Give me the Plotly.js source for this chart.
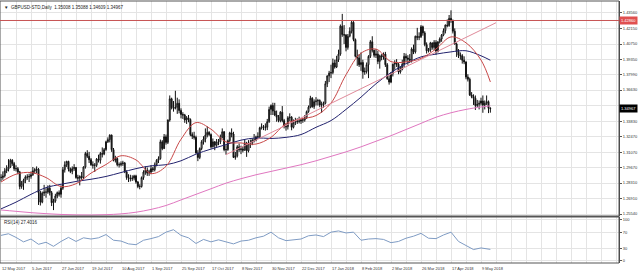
<!DOCTYPE html>
<html><head><meta charset="utf-8">
<script src="https://cdn.plot.ly/plotly-3.0.1.min.js"></script>
<style>html,body{margin:0;padding:0;background:#fff;}#chart{width:640px;height:273px;}</style>
</head><body><div id="chart"></div>
<script>
// ---- DATA (GBPUSD daily, 12 May 2017 - 16 May 2018) ----
const open = [
1.2885,1.2880,1.2895,1.2940,1.2955,1.2975,1.3035,1.3005,1.2960,1.2960,
1.2930,1.2800,1.2830,1.2855,1.2885,1.2885,1.2890,1.2905,1.2940,1.2950,
1.2955,1.2745,1.2660,1.2740,1.2750,1.2750,1.2785,1.2745,1.2655,1.2670,
1.2715,1.2745,1.2730,1.2785,1.2950,1.2995,1.3025,1.2955,1.2935,1.2960,
1.2970,1.2880,1.2875,1.2890,1.2880,1.2975,1.3095,1.3070,1.3040,1.2995,
1.2990,1.2990,1.3045,1.3035,1.3095,1.3090,1.3130,1.3200,1.3220,1.3260,
1.3130,1.3035,1.3050,1.2995,1.2995,1.3005,1.3010,1.2930,1.2880,1.2875,
1.2870,1.2875,1.2895,1.2840,1.2800,1.2800,1.2880,1.2930,1.2945,1.2920,
1.2930,1.2960,1.2950,1.2995,1.3035,1.3050,1.3200,1.3140,1.3245,1.3195,
1.3395,1.3585,1.3505,1.3500,1.3510,1.3545,1.3480,1.3445,1.3440,1.3395,
1.3415,1.3400,1.3265,1.3250,1.3240,1.3100,1.3060,1.3140,1.3200,1.3225,
1.3260,1.3285,1.3265,1.3155,1.3200,1.3170,1.3200,1.3200,1.3240,1.3290,
1.3130,1.3130,1.3210,1.3280,1.3270,1.3060,1.3075,1.3155,1.3130,1.3135,
1.3125,1.3190,1.3120,1.3185,1.3190,1.3215,1.3215,1.3245,1.3245,1.3325,
1.3335,1.3335,1.3330,1.3380,1.3490,1.3525,1.3475,1.3440,1.3420,1.3390,
1.3465,1.3390,1.3340,1.3335,1.3415,1.3420,1.3330,1.3375,1.3380,1.3385,
1.3385,1.3395,1.3395,1.3415,1.3470,1.3510,1.3590,1.3515,1.3560,1.3565,
1.3570,1.3530,1.3530,1.3545,1.3720,1.3790,1.3815,1.3820,1.3905,1.3870,
1.3935,1.3985,1.4235,1.4160,1.4155,1.4045,1.4145,1.4190,1.4270,1.4115,
1.3965,1.3950,1.3890,1.3910,1.3825,1.3830,1.3890,1.3965,1.4095,1.4020,
1.3975,1.3985,1.3920,1.3970,1.3960,1.3985,1.3890,1.3765,1.3735,1.3810,
1.3895,1.3905,1.3895,1.3825,1.3850,1.3895,1.3965,1.3950,1.3940,1.3930,
1.4030,1.4005,1.4145,1.4135,1.4140,1.4230,1.4175,1.4070,1.4015,1.4020,
1.4085,1.4045,1.4090,1.4010,1.4095,1.4120,1.4155,1.4195,1.4245,1.4240,
1.4305,1.4285,1.4190,1.4075,1.4010,1.3975,1.3970,1.3930,1.3915,1.3780,
1.3760,1.3620,1.3605,1.3590,1.3525,1.3535,1.3545,1.3565,1.3530,1.3545,
1.3560,1.35008];
const high = [
1.2910,1.2935,1.2965,1.2990,1.3045,1.3048,1.3045,1.3020,1.2990,1.2975,
1.2940,1.2850,1.2870,1.2900,1.2910,1.2915,1.2935,1.2975,1.2965,1.2980,
1.2965,1.2760,1.2755,1.2815,1.2785,1.2810,1.2815,1.2760,1.2690,1.2735,
1.2755,1.2765,1.2810,1.2975,1.3025,1.3030,1.3030,1.2970,1.2980,1.3000,
1.2975,1.2905,1.2900,1.2930,1.2980,1.3110,1.3125,1.3110,1.3055,1.3025,
1.3010,1.3055,1.3085,1.3110,1.3150,1.3145,1.3210,1.3240,1.3267,1.3265,
1.3145,1.3075,1.3060,1.3015,1.3025,1.3030,1.3020,1.2945,1.2910,1.2905,
1.2900,1.2905,1.2905,1.2850,1.2820,1.2890,1.2945,1.2980,1.2970,1.2950,
1.2990,1.2975,1.3015,1.3045,1.3070,1.3220,1.3215,1.3270,1.3265,1.3400,
1.3615,1.3595,1.3565,1.3657,1.3595,1.3580,1.3500,1.3465,1.3450,1.3430,
1.3440,1.3410,1.3285,1.3290,1.3255,1.3125,1.3150,1.3215,1.3250,1.3320,
1.3338,1.3295,1.3275,1.3230,1.3205,1.3225,1.3225,1.3265,1.3320,1.3295,
1.3170,1.3220,1.3290,1.3320,1.3290,1.3110,1.3170,1.3185,1.3165,1.3160,
1.3220,1.3200,1.3215,1.3220,1.3230,1.3270,1.3255,1.3285,1.3335,1.3365,
1.3350,1.3365,1.3405,1.3515,1.3535,1.3550,1.3549,1.3480,1.3440,1.3475,
1.3520,1.3405,1.3365,1.3430,1.3455,1.3430,1.3400,1.3415,1.3410,1.3425,
1.3410,1.3415,1.3440,1.3480,1.3525,1.3612,1.3600,1.3580,1.3600,1.3585,
1.3580,1.3560,1.3560,1.3745,1.3795,1.3835,1.3890,1.3945,1.3935,1.3970,
1.4025,1.4250,1.4345,1.4245,1.4165,1.4165,1.4225,1.4285,1.4280,1.4125,
1.4025,1.3985,1.4000,1.3935,1.3865,1.3910,1.3975,1.4110,1.4145,1.4025,
1.4030,1.4015,1.3980,1.3985,1.4000,1.4005,1.3905,1.3795,1.3825,1.3900,
1.3930,1.3940,1.3905,1.3875,1.3935,1.3995,1.3990,1.3975,1.3985,1.4045,
1.4070,1.4150,1.4220,1.4180,1.4245,1.4240,1.4190,1.4090,1.4040,1.4095,
1.4090,1.4110,1.4110,1.4100,1.4135,1.4165,1.4215,1.4250,1.4295,1.4335,
1.4377,1.4295,1.4215,1.4090,1.4030,1.4000,1.3985,1.3965,1.3920,1.3805,
1.3775,1.3645,1.3625,1.3615,1.3575,1.3570,1.3595,1.3615,1.3570,1.3615,
1.3570,1.35088];
const low = [
1.2845,1.2860,1.2880,1.2920,1.2935,1.2965,1.2985,1.2940,1.2935,1.2910,
1.2775,1.2780,1.2770,1.2830,1.2860,1.2840,1.2870,1.2895,1.2915,1.2920,
1.2635,1.2630,1.2650,1.2715,1.2700,1.2735,1.2720,1.2625,1.2589,1.2655,
1.2695,1.2710,1.2700,1.2770,1.2925,1.2975,1.2935,1.2920,1.2910,1.2940,
1.2870,1.2850,1.2810,1.2860,1.2865,1.2960,1.3055,1.3010,1.2985,1.2960,
1.2930,1.2975,1.3015,1.3005,1.3060,1.3080,1.3120,1.3190,1.3195,1.3110,
1.3025,1.3015,1.2980,1.2970,1.2980,1.2985,1.2920,1.2860,1.2840,1.2845,
1.2850,1.2855,1.2825,1.2785,1.2775,1.2790,1.2860,1.2905,1.2895,1.2895,
1.2910,1.2930,1.2935,1.2980,1.3010,1.3040,1.3125,1.3135,1.3175,1.3180,
1.3380,1.3490,1.3470,1.3490,1.3450,1.3455,1.3410,1.3405,1.3370,1.3360,
1.3375,1.3250,1.3225,1.3220,1.3095,1.3027,1.3045,1.3125,1.3175,1.3195,
1.3240,1.3250,1.3140,1.3150,1.3125,1.3155,1.3170,1.3180,1.3230,1.3115,
1.3085,1.3120,1.3195,1.3240,1.3055,1.3040,1.3060,1.3110,1.3090,1.3105,
1.3120,1.3065,1.3105,1.3145,1.3170,1.3195,1.3205,1.3225,1.3230,1.3310,
1.3305,1.3300,1.3305,1.3370,1.3440,1.3440,1.3430,1.3380,1.3375,1.3375,
1.3375,1.3320,1.3300,1.3310,1.3385,1.3303,1.3320,1.3350,1.3360,1.3365,
1.3360,1.3370,1.3380,1.3405,1.3460,1.3500,1.3505,1.3495,1.3525,1.3525,
1.3510,1.3460,1.3505,1.3535,1.3690,1.3735,1.3770,1.3805,1.3855,1.3860,
1.3915,1.3970,1.4140,1.4075,1.4010,1.4025,1.4135,1.4170,1.4100,1.3955,
1.3880,1.3870,1.3835,1.3765,1.3800,1.3810,1.3770,1.3950,1.4000,1.3955,
1.3950,1.3895,1.3855,1.3930,1.3935,1.3870,1.3755,1.3712,1.3725,1.3785,
1.3845,1.3870,1.3805,1.3810,1.3840,1.3870,1.3915,1.3890,1.3905,1.3910,
1.3985,1.3990,1.4110,1.4110,1.4130,1.4150,1.4055,1.3990,1.4000,1.4005,
1.4025,1.4020,1.3980,1.4000,1.4080,1.4095,1.4145,1.4170,1.4225,1.4230,
1.4265,1.4170,1.4070,1.3960,1.3950,1.3935,1.3900,1.3895,1.3760,1.3740,
1.3610,1.3590,1.3530,1.3485,1.3510,1.3490,1.3525,1.3460,1.3490,1.3530,
1.3457,1.34609];
const close = [
1.2880,1.2895,1.2940,1.2955,1.2975,1.3035,1.3005,1.2960,1.2960,1.2930,
1.2800,1.2830,1.2855,1.2885,1.2885,1.2890,1.2905,1.2940,1.2950,1.2955,
1.2745,1.2660,1.2740,1.2750,1.2750,1.2785,1.2745,1.2655,1.2670,1.2715,
1.2745,1.2730,1.2785,1.2950,1.2995,1.3025,1.2955,1.2935,1.2960,1.2970,
1.2880,1.2875,1.2890,1.2880,1.2975,1.3095,1.3070,1.3040,1.2995,1.2990,
1.2990,1.3045,1.3035,1.3095,1.3090,1.3130,1.3200,1.3220,1.3260,1.3130,
1.3035,1.3050,1.2995,1.2995,1.3005,1.3010,1.2930,1.2880,1.2875,1.2870,
1.2875,1.2895,1.2840,1.2800,1.2800,1.2880,1.2930,1.2945,1.2920,1.2930,
1.2960,1.2950,1.2995,1.3035,1.3050,1.3200,1.3140,1.3245,1.3195,1.3395,
1.3585,1.3505,1.3500,1.3510,1.3545,1.3480,1.3445,1.3440,1.3395,1.3415,
1.3400,1.3265,1.3250,1.3240,1.3100,1.3060,1.3140,1.3200,1.3225,1.3260,
1.3285,1.3265,1.3155,1.3200,1.3170,1.3200,1.3200,1.3240,1.3290,1.3130,
1.3130,1.3210,1.3280,1.3270,1.3060,1.3075,1.3155,1.3130,1.3135,1.3125,
1.3190,1.3120,1.3185,1.3190,1.3215,1.3215,1.3245,1.3245,1.3325,1.3335,
1.3335,1.3330,1.3380,1.3490,1.3525,1.3475,1.3440,1.3420,1.3390,1.3465,
1.3390,1.3340,1.3335,1.3415,1.3420,1.3330,1.3375,1.3380,1.3385,1.3385,
1.3395,1.3395,1.3415,1.3470,1.3510,1.3590,1.3515,1.3560,1.3565,1.3570,
1.3530,1.3530,1.3545,1.3720,1.3790,1.3815,1.3820,1.3905,1.3870,1.3935,
1.3985,1.4235,1.4160,1.4155,1.4045,1.4145,1.4190,1.4270,1.4115,1.3965,
1.3950,1.3890,1.3910,1.3825,1.3830,1.3890,1.3965,1.4095,1.4020,1.3975,
1.3985,1.3920,1.3970,1.3960,1.3985,1.3890,1.3765,1.3735,1.3810,1.3895,
1.3905,1.3895,1.3825,1.3850,1.3895,1.3965,1.3950,1.3940,1.3930,1.4030,
1.4005,1.4145,1.4135,1.4140,1.4230,1.4175,1.4070,1.4015,1.4020,1.4085,
1.4045,1.4090,1.4010,1.4095,1.4120,1.4155,1.4195,1.4245,1.4240,1.4305,
1.4285,1.4190,1.4075,1.4010,1.3975,1.3970,1.3930,1.3915,1.3780,1.3760,
1.3620,1.3605,1.3590,1.3525,1.3535,1.3545,1.3565,1.3530,1.3545,1.3560,
1.3500,1.34967];

// moving averages (bar index, price)
const maIdx  = [0,8,16,24,32,40,48,56,64,72,80,88,96,104,112,120,128,136,144,152,160,168,176,184,192,200,208,216,224,232,240,248,256,261];
const ma20   = [1.2840,1.2910,1.2925,1.2880,1.2800,1.2825,1.2920,1.2997,1.3075,1.3038,1.2916,1.2981,1.3223,1.3372,1.3313,1.3199,1.3190,1.3180,1.3240,1.3363,1.3405,1.3435,1.3547,1.3800,1.3993,1.4030,1.3918,1.3915,1.3947,1.4031,1.4139,1.4086,1.3932,1.3736];
const ma50   = [1.2600,1.2660,1.2730,1.2790,1.2820,1.2845,1.2865,1.2890,1.2925,1.2960,1.2985,1.2995,1.3030,1.3090,1.3135,1.3175,1.3215,1.3235,1.3230,1.3240,1.3265,1.3330,1.3390,1.3490,1.3600,1.3720,1.3820,1.3900,1.3960,1.3985,1.4005,1.4015,1.3970,1.3930];
const ma200  = [1.2590,1.2578,1.2566,1.2557,1.2550,1.2546,1.2545,1.2548,1.2555,1.2570,1.2595,1.2630,1.2680,1.2730,1.2780,1.2830,1.2870,1.2905,1.2935,1.2965,1.2995,1.3030,1.3070,1.3110,1.3155,1.3205,1.3255,1.3310,1.3365,1.3420,1.3460,1.3490,1.3512,1.3522];
const trendIdx = [120, 264];
const trendPx  = [1.3085, 1.4266];
const resistance = 1.4286;
const lastPrice = 1.34967;

// RSI(14)
const rsiIdx = [0,4,8,12,16,20,24,28,32,36,40,44,48,52,56,60,64,68,72,76,80,84,88,92,96,100,104,108,112,116,120,124,128,132,136,140,144,148,152,156,160,164,168,172,176,180,184,188,192,196,200,204,208,212,216,220,224,228,232,236,240,244,248,252,256,260,261];
const rsi    = [62,66,57,46,53,40,45,35,47,57,47,56,53,56,64,50,48,41,39,50,54,59,70,76,62,56,42,52,46,51,46,41,48,50,56,60,70,56,49,51,53,61,63,59,70,73,68,70,50,53,54,52,44,47,55,60,67,55,54,63,70,47,36,27,31,29,27.4];

// axis labels
const dateLabels = ["12 May 2017","5 Jun 2017","27 Jun 2017","19 Jul 2017","10 Aug 2017","1 Sep 2017","25 Sep 2017","17 Oct 2017","8 Nov 2017","30 Nov 2017","22 Dec 2017","17 Jan 2018","8 Feb 2018","2 Mar 2018","26 Mar 2018","17 Apr 2018","9 May 2018"];
const priceTicks = [1.2554,1.2691,1.2831,1.2967,1.3107,1.3247,1.3383,1.3523,1.3663,1.3799,1.3935,1.4075,1.4215,1.4356];
const rsiTicks = [0,30,70,100];

// ---- BUILD ----
const idx = open.map((_, i) => i);
const gridVals = [];
for (let k = 0; k * 8 <= 328; k++) gridVals.push(k * 8);
const labelIdx = dateLabels.map((_, k) => k * 16);
// the price label hidden behind the current-price box is left blank
const priceText = priceTicks.map(v => Math.abs(v - lastPrice) < 0.004 ? "" : v.toFixed(5));
const FONT = "Liberation Sans, Arial, sans-serif";
const traces = [
  {type:'candlestick', x: idx, open, high, low, close, xaxis:'x', yaxis:'y',
   increasing:{line:{color:'#111', width:1}, fillcolor:'#ffffff'},
   decreasing:{line:{color:'#111', width:1}, fillcolor:'#111111'},
   whiskerwidth:0, hoverinfo:'skip', showlegend:false},
  {type:'scatter', mode:'lines', x: maIdx, y: ma200, line:{color:'#e077c0', width:1, shape:'spline'}, yaxis:'y', showlegend:false, hoverinfo:'skip'},
  {type:'scatter', mode:'lines', x: maIdx, y: ma50, line:{color:'#23236e', width:1, shape:'spline'}, yaxis:'y', showlegend:false, hoverinfo:'skip'},
  {type:'scatter', mode:'lines', x: maIdx, y: ma20, line:{color:'#c84848', width:1, shape:'spline'}, yaxis:'y', showlegend:false, hoverinfo:'skip'},
  {type:'scatter', mode:'lines', x: trendIdx, y: trendPx, line:{color:'#e08a9a', width:1}, yaxis:'y', showlegend:false, hoverinfo:'skip'},
  {type:'scatter', mode:'lines', x: rsiIdx, y: rsi, line:{color:'#7f9cc4', width:1}, xaxis:'x', yaxis:'y2', showlegend:false, hoverinfo:'skip'}
];
const annotations = [
  {xref:'paper', yref:'paper', x:0.004, y:1, xanchor:'left', yanchor:'top', yshift:-2, showarrow:false,
   text:'\u25BC  GBPUSD-STD,Daily  1.35008 1.35088 1.34609 1.34967', font:{size:4.5, color:'#222', family:FONT}},
  {xref:'paper', yref:'paper', x:0.004, y:0.1744, xanchor:'left', yanchor:'top', yshift:-1, showarrow:false,
   text:'RSI(14) 27.4016', font:{size:4.5, color:'#222', family:FONT}},
  {xref:'paper', yref:'y', x:1, y:lastPrice, xanchor:'left', yanchor:'middle', showarrow:false,
   text:lastPrice.toFixed(5), bgcolor:'#000', borderpad:1, font:{size:4, color:'#fff', family:FONT}},
  {xref:'paper', yref:'y', x:1, y:resistance, xanchor:'left', yanchor:'middle', showarrow:false,
   text:resistance.toFixed(5), bgcolor:'#e05050', borderpad:1, font:{size:4, color:'#fff', family:FONT}}
];
// date labels, left-aligned at their tick like the original terminal
labelIdx.forEach((xi, k) => annotations.push({
  xref:'x', yref:'paper', x:xi, y:0, xanchor:'left', yanchor:'top', yshift:-1, xshift:-1, showarrow:false,
  text:dateLabels[k], font:{size:4, color:'#333', family:FONT}
}));
const layout = {
  width:640, height:273,
  margin:{l:0, r:21, t:1, b:10},
  paper_bgcolor:'#ffffff', plot_bgcolor:'#ffffff',
  font:{family:FONT, size:4, color:'#222'},
  showlegend:false,
  xaxis:{anchor:'y2', range:[-0.533, 329.6], tickmode:'array', tickvals:gridVals, showticklabels:false, ticks:'',
         showgrid:true, gridcolor:'#e4e4e4', gridwidth:1, zeroline:false, showline:false,
         rangeslider:{visible:false}, fixedrange:true, automargin:false},
  yaxis:{domain:[0.1794, 1], range:[1.25361, 1.44604], side:'right', tickmode:'array',
         tickvals:priceTicks, ticktext:priceText,
         ticks:'outside', ticklen:2, tickcolor:'#555', showgrid:true, gridcolor:'#e4e4e4',
         zeroline:false, showline:true, linecolor:'#444', linewidth:1, tickfont:{size:4, color:'#333'}, automargin:false},
  yaxis2:{domain:[0, 0.1756], range:[-6.2, 107.4], side:'right', tickmode:'array',
         tickvals:rsiTicks, ticktext:rsiTicks.map(String),
         ticks:'outside', ticklen:2, tickcolor:'#555', showgrid:true, gridcolor:'#e4e4e4',
         zeroline:false, showline:true, linecolor:'#444', linewidth:1, tickfont:{size:4, color:'#333'}, automargin:false},
  shapes:[
    {type:'rect', xref:'paper', yref:'paper', x0:0, x1:1, y0:0, y1:1, line:{color:'#555', width:1}},
    {type:'line', xref:'paper', yref:'paper', x0:0, x1:1, y0:0.1775, y1:0.1775, line:{color:'#555', width:2}},
    {type:'line', xref:'paper', yref:'y', x0:0, x1:1, y0:resistance, y1:resistance, line:{color:'#c85454', width:1}}
  ],
  annotations
};
Plotly.newPlot('chart', traces, layout, {staticPlot:true, displayModeBar:false});
</script></body></html>
